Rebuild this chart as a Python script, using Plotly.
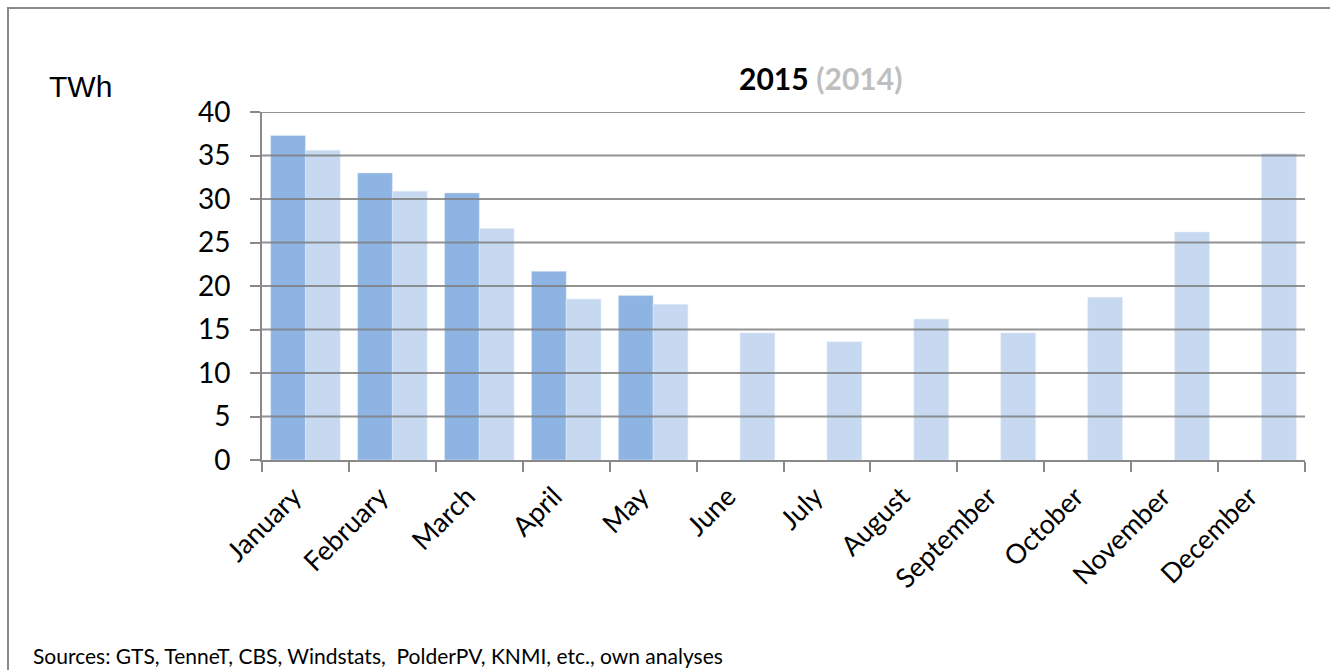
import plotly.graph_objects as go

# Monthly energy totals in TWh
months = ["January", "February", "March", "April", "May", "June", "July",
          "August", "September", "October", "November", "December"]
twh_2015 = [37.3, 33.0, 30.7, 21.7, 18.9, None, None, None, None, None, None, None]
twh_2014 = [35.6, 30.9, 26.6, 18.5, 17.9, 14.6, 13.6, 16.2, 14.6, 18.7, 26.2, 35.2]
y_ticks = [0, 5, 10, 15, 20, 25, 30, 35, 40]

W, H = 1330, 670
L, R, T, B = 262, 25, 112, 210
pw, ph = W - L - R, H - T - B


def px_x(x):
    return (x - L) / pw


def px_y(y):
    return (H - B - y) / ph


FONT = "Lato"
AXIS = "#898989"

fig = go.Figure()
fig.add_trace(go.Bar(x=months, y=twh_2015, name="2015", marker_color="#8EB4E3"))
fig.add_trace(go.Bar(x=months, y=twh_2014, name="2014", marker_color="#C6D9F1"))

shapes = []
# horizontal gridlines drawn over the bars
for v in y_ticks[1:]:
    shapes.append(dict(type="line", xref="paper", yref="y", x0=0, x1=1, y0=v, y1=v,
                       line=dict(color="rgba(128,128,128,0.85)", width=2), layer="above"))
# outer chart frame
shapes.append(dict(type="rect", xref="paper", yref="paper",
                   x0=px_x(8), x1=px_x(W + 20), y0=px_y(H + 20), y1=px_y(8),
                   line=dict(color=AXIS, width=2), layer="below"))

fig.update_layout(
    width=W, height=H,
    margin=dict(l=L, r=R, t=T, b=B),
    paper_bgcolor="white", plot_bgcolor="white",
    barmode="group", bargap=0.2, bargroupgap=0,
    showlegend=False,
    font=dict(family=FONT, size=25, color="black"),
    shapes=shapes,
    xaxis=dict(
        tickangle=-45, tickson="boundaries", ticks="outside", ticklen=10,
        tickcolor=AXIS, tickwidth=2, showline=True, linecolor=AXIS, linewidth=2,
        showgrid=False, tickfont=dict(size=27, family=FONT),
        ticklabelstandoff=8, ticklabelshift=-12,
    ),
    yaxis=dict(
        range=[0, 40], tickvals=y_ticks, ticks="outside", ticklen=10,
        tickcolor=AXIS, tickwidth=2, showline=True, linecolor=AXIS, linewidth=2,
        showgrid=False, zeroline=False, ticklabelstandoff=14,
        tickfont=dict(size=28, family=FONT),
    ),
    annotations=[
        dict(xref="paper", yref="paper", x=px_x(820), y=px_y(78),
             xanchor="center", yanchor="middle", showarrow=False,
             text="<b>2015</b> <span style='color:#BFBFBF'><b>(2014)</b></span>",
             font=dict(size=30, family=FONT, color="black")),
        dict(xref="paper", yref="paper", x=px_x(47), y=px_y(87),
             xanchor="left", yanchor="middle", showarrow=False,
             text="TWh", font=dict(size=30, family="Liberation Sans", color="black")),
        dict(xref="paper", yref="paper", x=px_x(31), y=px_y(655),
             xanchor="left", yanchor="middle", showarrow=False,
             text="Sources: GTS, TenneT, CBS, Windstats,  PolderPV, KNMI, etc., own analyses",
             font=dict(size=21, family=FONT, color="black")),
    ],
)

fig.write_html("out.html")
